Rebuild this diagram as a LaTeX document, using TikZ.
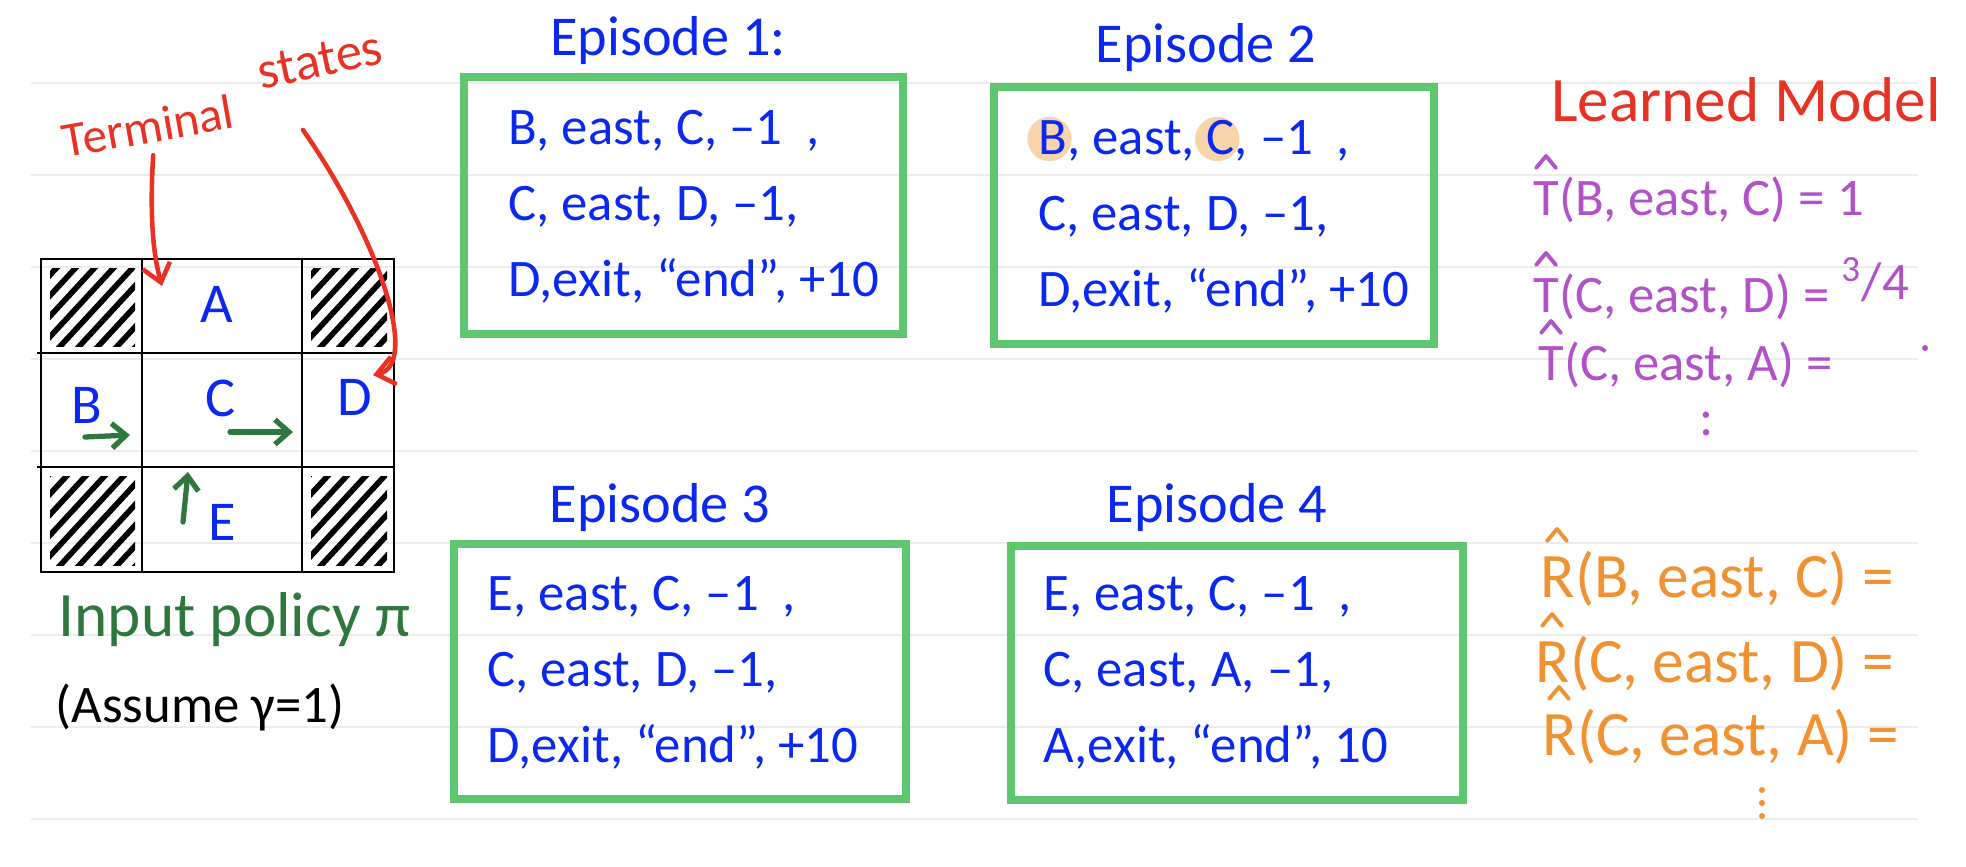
\documentclass[tikz,border=0pt]{standalone}
\usepackage{fontspec}
\setmainfont{Carlito}
\usepackage{tikz}
\usetikzlibrary{arrows.meta, positioning}

\definecolor{inkblue}{RGB}{10,40,240}
\definecolor{boxgreen}{RGB}{94,198,110}
\definecolor{inkred}{RGB}{232,50,36}
\definecolor{inkgreen}{RGB}{46,120,62}
\definecolor{inkpurple}{RGB}{178,82,200}
\definecolor{inkorange}{RGB}{240,145,50}
\definecolor{hlorange}{RGB}{247,212,170}
\definecolor{rulegray}{RGB}{236,236,236}

% highlighted letter (orange blob behind it)
\newcommand{\hl}[1]{\tikz[baseline=0pt]{\fill[hlorange, overlay] (-1pt,4.5pt) circle (6.3pt); \node[inner sep=0pt, anchor=base, text=inkblue] at (0pt,0pt) {#1};}}

\begin{document}
\begin{tikzpicture}[x=0.01cm, y=-0.01cm,
  rule/.style={rulegray, line width=0.5pt},
  cell/.style={text=inkblue, font=\fontsize{16}{18}\selectfont},
  hatch/.style={line width=1.6pt, line cap=round},
  policy/.style={inkgreen, line width=1.5pt, line cap=round, -{Straight Barb[length=4pt, width=7pt]}},
  pointer/.style={inkred, line width=1.3pt, line cap=round, -{Straight Barb[length=5pt, width=8pt]}},
  eptitle/.style={text=inkblue, font=\fontsize{16}{20}\selectfont},
  eprun/.style={text=inkblue, anchor=west, align=left, inner sep=0pt, font=\fontsize{15}{21.6}\selectfont},
  epbox/.style={boxgreen, line width=2pt},
  model/.style={anchor=base west, inner sep=0pt},
  hatline/.style={line width=1.1pt, line cap=round, line join=round}]

  % hat drawn over the first letter of a model node
  \def\caret#1#2#3{\draw[hatline] ([shift={(#2-10,#3)}]#1.base west) -- ++(10,-12) -- ++(10,12);}

  \fill[white] (0,0) rectangle (1966,866);

  % notebook rules
  \foreach \yy in {83,175,...,819}
    \draw[rule] (31,\yy) -- (1918,\yy);

  % Grid world
  \foreach \xa/\ya/\xb/\yb in {41/259/142/353, 302/259/394/353, 41/467/142/572, 302/467/394/572} {
    \begin{scope}
      \clip (\xa+9,\ya+9) rectangle (\xb-7,\yb-7);
      \foreach \k in {0,19,...,250}
        \draw[hatch] (\xa-120+\k,\yb) -- ++(120,-130);
    \end{scope}
  }
  \draw[line width=0.6pt] (41,259) rectangle (394,572);
  \draw[line width=0.6pt] (142,259) -- (142,572) (302,259) -- (302,572);
  \draw[line width=0.6pt] (37,353) -- (394,353) (37,467) -- (394,467);

  \node[cell] (cA) at (217,304) {A};
  \node[cell] (cB) at (87,405) {B};
  \node[cell] (cC) at (220,398) {C};
  \node[cell] (cD) at (355,397) {D};
  \node[cell] (cE) at (222,522) {E};

  \draw[policy] (85,437) -- (130,435);
  \draw[policy] (230,432) -- (293,432);
  \draw[policy] (183,522) -- (188,472);

  % Terminal states
  \node[text=inkred, font=\fontsize{14}{16}\selectfont, rotate=10] (term) at (148,126) {Terminal};
  \node[text=inkred, font=\fontsize{15}{16}\selectfont, rotate=12] (states) at (320,60) {states};
  \coordinate (tipA) at (162,286);
  \coordinate (fromS) at (303,130);
  \coordinate (tipD) at (373,375);
  \draw[pointer] (term.south) .. controls (150,210) and (152,250) .. (tipA);
  \draw[pointer] (fromS) .. controls (380,240) and (420,365) .. (tipD);

  \node[text=inkgreen, font=\fontsize{18}{20}\selectfont, anchor=west, inner sep=0pt] (pol) at (58,620) {Input policy π};
  \node[font=\fontsize{15}{18}\selectfont, anchor=west, inner sep=0pt] (gam) at (55,707) {(Assume γ=1)};

  % Episode 1
  \begin{scope}[shift={(464,77)}]
    \draw[epbox] (0,0) rectangle (439,257);
    \node[eptitle] (title1) at (204,-37) {Episode 1:};
    \node[eprun] (run1) at (44,130) {B, east, C, –1\ \ ,\\C, east, D, –1,\\D,exit, “end”, +10};
  \end{scope}

  % Episode 2
  \begin{scope}[shift={(994,87)}]
    \draw[epbox] (0,0) rectangle (440,257);
    \node[eptitle] (title2) at (212,-40) {Episode 2};
    \node[eprun] (run2) at (44,130) {\hl{B}, east, \hl{C}, –1\ \ ,\\C, east, D, –1,\\D,exit, “end”, +10};
  \end{scope}

  % Episode 3
  \begin{scope}[shift={(454,544)}]
    \draw[epbox] (0,0) rectangle (452,255);
    \node[eptitle] (title3) at (206,-37) {Episode 3};
    \node[eprun] (run3) at (33,129) {E, east, C, –1\ \ ,\\C, east, D, –1,\\D,exit, “end”, +10};
  \end{scope}

  % Episode 4
  \begin{scope}[shift={(1011,546)}]
    \draw[epbox] (0,0) rectangle (452,254);
    \node[eptitle] (title4) at (206,-39) {Episode 4};
    \node[eprun] (run4) at (32,127) {E, east, C, –1\ \ ,\\C, east, A, –1,\\A,exit, “end”, 10};
  \end{scope}

  % Learned model
  \node[text=inkred, font=\fontsize{18}{20}\selectfont] (lm) at (1746,100) {Learned Model};
  \begin{scope}[inkpurple, every node/.style={text=inkpurple, font=\fontsize{15}{18}\selectfont}]
    \node[model] (t1) at (1533,215) {T(B, east, C) = 1};
    \node[model] (t2) at (1533,312) {T(C, east, D) = \raisebox{.5ex}{\textsuperscript{3}/4}};
    \node[model] (t3) at (1538,380) {T(C, east, A) =};
    \node (tdots) at (1707,424) {:};
    \caret{t1}{13}{-47}
    \caret{t2}{13}{-47}
    \caret{t3}{13}{-47}
    \fill (1925,348) circle (3);
  \end{scope}

  \begin{scope}[inkorange, every node/.style={text=inkorange, font=\fontsize{18}{20}\selectfont}]
    \node[model] (r1) at (1540,597) {R(B, east, C) =};
    \node[model] (r2) at (1535,682) {R(C, east, D) =};
    \node[model] (r3) at (1542,755) {R(C, east, A) =};
    \caret{r1}{17}{-56}
    \caret{r2}{17}{-56}
    \caret{r3}{17}{-56}
    \foreach \dy in {790,803,816}
      \fill (1762,\dy) circle (3);
  \end{scope}
\end{tikzpicture}
\end{document}
